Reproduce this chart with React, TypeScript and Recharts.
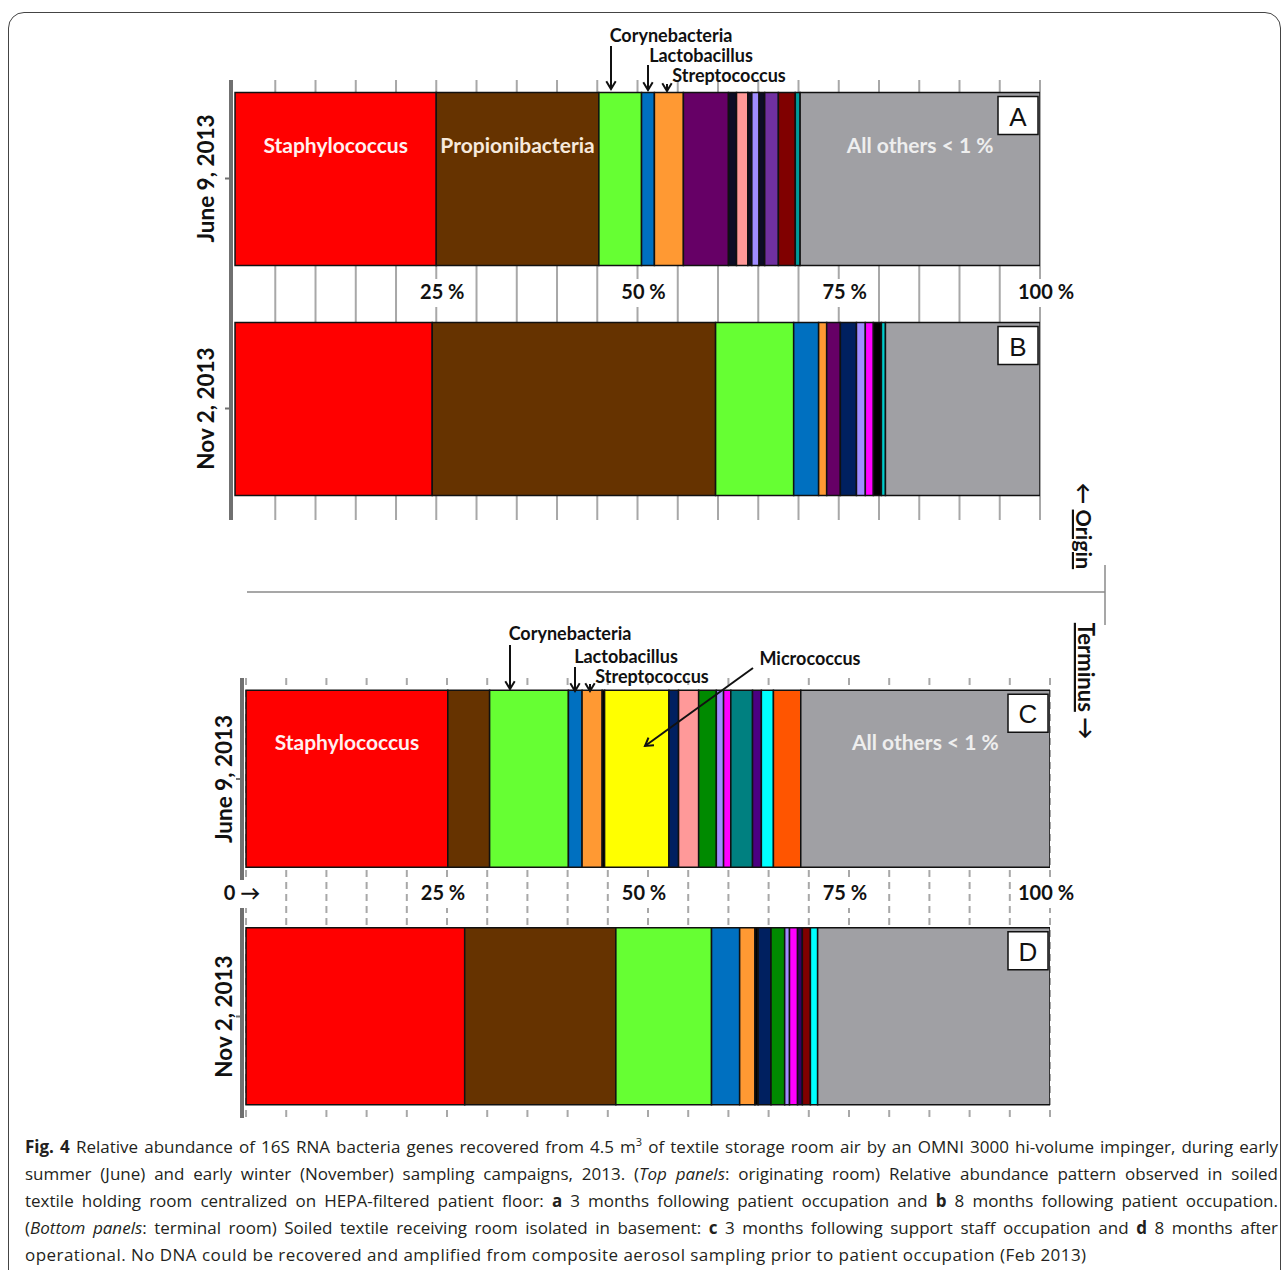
import React from 'react';
import { BarChart, Bar, XAxis, YAxis, CartesianGrid } from 'recharts';

const FONT = "Lato, 'Open Sans', sans-serif";

const dates = ['June 9, 2013', 'Nov 2, 2013'];
const gridTicksTop = [5, 10, 15, 20, 25, 30, 35, 40, 45, 50, 55, 60, 65, 70, 75, 80, 85, 90, 95, 100];
const gridTicksBottom = [0, 5, 10, 15, 20, 25, 30, 35, 40, 45, 50, 55, 60, 65, 70, 75, 80, 85, 90, 95, 100];

// originating room, June (A) and November (B), % of reads
const valuesA = [25.0, 20.2, 5.3, 1.6, 3.6, 5.6, 1.0, 1.4, 0.5, 0.9, 0.7, 1.7, 2.1, 0.6, 29.8];
const colorsA = ['#ff0000', '#663300', '#66ff33', '#0070c0', '#ff9933', '#660066', '#0d0d26', '#ff9999', '#0d0d26', '#a08cff', '#0d0d26', '#7030a0', '#800000', '#009999', '#a0a0a4'];
const namesA = ['Staphylococcus', 'Propionibacteria', '', '', '', '', '', '', '', '', '', '', '', '', 'All others < 1 %'];

const valuesB = [24.5, 35.2, 9.7, 3.1, 1.0, 1.7, 2.0, 1.1, 1.0, 1.0, 0.5, 19.2];
const colorsB = ['#ff0000', '#663300', '#66ff33', '#0070c0', '#ff9933', '#660066', '#002060', '#a08cff', '#ff00ff', '#000000', '#00cccc', '#a0a0a4'];

// terminal room, June (C) and November (D)
const valuesC = [25.1, 5.2, 9.8, 1.7, 2.5, 0.3, 8.0, 1.2, 2.5, 2.2, 0.9, 0.9, 2.7, 1.1, 1.5, 3.4, 31.0];
const colorsC = ['#ff0000', '#663300', '#66ff33', '#0070c0', '#ff9933', '#000000', '#ffff00', '#002060', '#ff9999', '#008a00', '#a08cff', '#ff00ff', '#008080', '#4b0082', '#00ffff', '#ff5500', '#a0a0a4'];
const namesC = ['Staphylococcus', '', '', '', '', '', '', '', '', '', '', '', '', '', '', '', 'All others < 1 %'];

const valuesD = [27.2, 18.8, 11.9, 3.5, 1.9, 0.4, 1.6, 1.7, 0.6, 1.0, 0.6, 1.0, 0.9, 28.9];
const colorsD = ['#ff0000', '#663300', '#66ff33', '#0070c0', '#ff9933', '#000000', '#002060', '#008a00', '#a08cff', '#ff00ff', '#330066', '#800000', '#00ffff', '#a0a0a4'];

type Panel = {
  values: number[][];
  colors: string[][];
  names: string[][];
  letters: string[];
};

const topPanel: Panel = { values: [valuesA, valuesB], colors: [colorsA, colorsB], names: [namesA, []], letters: ['A', 'B'] };
const bottomPanel: Panel = { values: [valuesC, valuesD], colors: [colorsC, colorsD], names: [namesC, []], letters: ['C', 'D'] };

function buildRows(p: Panel) {
  const n = Math.max(...p.values.map((r) => r.length));
  return dates.map((d, i) => {
    const row: any = { date: d };
    for (let k = 0; k < n; k++) row['s' + k] = p.values[i][k] ?? 0;
    return row;
  });
}

function segmentShape(p: any, seg: number, panel: Panel) {
  const row = p.index;
  const vals = panel.values[row];
  if (!vals || seg >= vals.length || !(p.width > 0)) return <g />;
  const name = panel.names[row][seg];
  const last = seg === vals.length - 1;
  const textFill = seg === 0 ? '#fff0f0' : seg === 1 ? '#f6e9dc' : '#eeeeee';
  return (
    <g>
      <rect x={p.x} y={p.y} width={p.width} height={p.height} fill={panel.colors[row][seg]} stroke="#111" strokeWidth={1.5} />
      {name ? (
        <text x={p.x + p.width / 2} y={p.y + 60} textAnchor="middle" fontFamily={FONT} fontWeight={700} fontSize={21} fill={textFill}>
          {name}
        </text>
      ) : null}
      {last ? (
        <g>
          <rect x={p.x + p.width - 42} y={p.y + 4} width={40} height={38} fill="#fff" stroke="#111" strokeWidth={1.5} />
          <text x={p.x + p.width - 22} y={p.y + 33} textAnchor="middle" fontFamily="'Liberation Sans', Arial, sans-serif" fontSize={26} fill="#111">
            {panel.letters[row]}
          </text>
        </g>
      ) : null}
    </g>
  );
}

function XTick(props: any) {
  const { x, payload, labelY, dx } = props;
  const v = payload.value;
  if (v % 25 !== 0) return <g />;
  const label = v === 0 ? '0 \u2192' : `${v} %`;
  return (
    <g>
      <rect x={x + dx - 27} y={labelY - 20} width={54} height={28} fill="#fff" />
      <text x={x + dx} y={labelY} textAnchor="middle" fontFamily={FONT} fontWeight={700} fontSize={20} fill="#111">
        {label}
      </text>
    </g>
  );
}

function YTick(props: any) {
  const { x, y, payload, shift } = props;
  return (
    <text transform={`translate(${x - shift},${y}) rotate(-90)`} textAnchor="middle" fontFamily={FONT} fontWeight={700} fontSize={22.5} fill="#111">
      {payload.value}
    </text>
  );
}

function StackPanel({ panel, left, top, margin, pad, ticks, dashed, labelY, labelDx, yShift, barSize }: any) {
  const rows = buildRows(panel);
  const n = Math.max(...panel.values.map((r: number[]) => r.length));
  const segs = Array.from({ length: n }, (_, k) => k);
  return (
    <div style={{ position: 'absolute', left, top }}>
      <BarChart width={950} height={500} data={rows} layout="vertical" margin={margin} barCategoryGap={0}>
        <CartesianGrid horizontal={false} stroke="#a8a8a8" strokeWidth={2} strokeDasharray={dashed ? '7 5' : undefined} />
        <XAxis
          type="number"
          domain={[-0.5, 100]}
          allowDataOverflow
          ticks={ticks}
          interval={0}
          height={1}
          axisLine={false}
          tickLine={false}
          tick={<XTick labelY={labelY} dx={labelDx} />}
        />
        <YAxis
          type="category"
          dataKey="date"
          width={60}
          padding={pad}
          axisLine={{ stroke: '#707070', strokeWidth: 4 }}
          tickLine={{ stroke: '#707070', strokeWidth: 2 }}
          tickSize={6}
          tick={<YTick shift={yShift} />}
        />
        {segs.map((k) => (
          <Bar
            key={k}
            dataKey={'s' + k}
            stackId="a"
            barSize={barSize}
            isAnimationActive={false}
            shape={(p: any) => segmentShape(p, k, panel)}
          />
        ))}
      </BarChart>
    </div>
  );
}

function Arrow({ x1, y1, x2, y2 }: { x1: number; y1: number; x2: number; y2: number }) {
  const a = Math.atan2(y2 - y1, x2 - x1);
  const h = 9;
  const s = 0.55;
  const p1 = `${x2 - h * Math.cos(a - s)},${y2 - h * Math.sin(a - s)}`;
  const p2 = `${x2 - h * Math.cos(a + s)},${y2 - h * Math.sin(a + s)}`;
  return (
    <g stroke="#111" strokeWidth={2} fill="none">
      <line x1={x1} y1={y1} x2={x2} y2={y2} />
      <polyline points={`${p1} ${x2},${y2} ${p2}`} />
    </g>
  );
}

const annot = { fontFamily: FONT, fontWeight: 700, fontSize: 18, fill: '#111' } as const;

function Overlay() {
  return (
    <svg width={1282} height={1270} style={{ position: 'absolute', left: 0, top: 0, pointerEvents: 'none' }}>
      <text x={671} y={42} textAnchor="middle" {...annot}>Corynebacteria</text>
      <text x={701} y={62} textAnchor="middle" {...annot}>Lactobacillus</text>
      <text x={729} y={82} textAnchor="middle" {...annot}>Streptococcus</text>
      <Arrow x1={611} y1={46} x2={611} y2={89} />
      <Arrow x1={648} y1={65} x2={648} y2={90} />
      <Arrow x1={667} y1={84} x2={667} y2={91} />

      <text x={570} y={640} textAnchor="middle" {...annot}>Corynebacteria</text>
      <text x={626} y={663} textAnchor="middle" {...annot}>Lactobacillus</text>
      <text x={652} y={683} textAnchor="middle" {...annot}>Streptococcus</text>
      <text x={810} y={665} textAnchor="middle" {...annot}>Micrococcus</text>
      <Arrow x1={510} y1={645} x2={510} y2={689} />
      <Arrow x1={575} y1={667} x2={575} y2={691} />
      <Arrow x1={590} y1={684} x2={590} y2={691} />
      <Arrow x1={753} y1={668} x2={645} y2={746} />

      <line x1={247} y1={592} x2={1105} y2={592} stroke="#8a8a8a" strokeWidth={1.5} />
      <line x1={1105} y1={565} x2={1105} y2={625} stroke="#8a8a8a" strokeWidth={1.5} />
      <text transform="translate(1076,526) rotate(90)" textAnchor="middle" fontFamily={FONT} fontWeight={700} fontSize={21.5} fill="#111">
        {'\u2190 '}
        <tspan textDecoration="underline">Origin</tspan>
      </text>
      <text transform="translate(1078,681) rotate(90)" textAnchor="middle" fontFamily={FONT} fontWeight={700} fontSize={22} fill="#111">
        <tspan textDecoration="underline">Terminus</tspan>
        {' \u2192'}
      </text>
    </svg>
  );
}

const lineStyle: React.CSSProperties = {
  height: 27,
  lineHeight: '27px',
  whiteSpace: 'nowrap',
  textAlign: 'justify',
  textAlignLast: 'justify',
};

function Caption() {
  return (
    <div
      style={{
        position: 'absolute',
        left: 25,
        top: 1133,
        width: 1253,
        fontFamily: "'Open Sans', 'Noto Sans', sans-serif",
        fontSize: 17,
        color: '#231f20',
      }}
    >
      <div style={lineStyle}>
        <b>Fig. 4</b> Relative abundance of 16S RNA bacteria genes recovered from 4.5 m<sup style={{ fontSize: 11, lineHeight: 0 }}>3</sup> of textile storage room air by an OMNI 3000 hi-volume impinger, during early
      </div>
      <div style={lineStyle}>
        summer (June) and early winter (November) sampling campaigns, 2013. (<i>Top panels</i>: originating room) Relative abundance pattern observed in soiled
      </div>
      <div style={lineStyle}>
        textile holding room centralized on HEPA-filtered patient floor: <b>a</b> 3 months following patient occupation and <b>b</b> 8 months following patient occupation.
      </div>
      <div style={lineStyle}>
        (<i>Bottom panels</i>: terminal room) Soiled textile receiving room isolated in basement: <b>c</b> 3 months following support staff occupation and <b>d</b> 8 months after
      </div>
      <div style={{ ...lineStyle, textAlignLast: 'left', letterSpacing: 0.45 }}>
        operational. No DNA could be recovered and amplified from composite aerosol sampling prior to patient occupation (Feb 2013)
      </div>
    </div>
  );
}

export default function App() {
  return (
    <div style={{ position: 'absolute', left: 0, top: 0, width: 1282, height: 1270, overflow: 'hidden', background: '#fff' }}>
      <div
        style={{
          position: 'absolute',
          left: 8,
          top: 12,
          width: 1273,
          height: 1300,
          boxSizing: 'border-box',
          border: '1.5px solid #444',
          borderRadius: 16,
        }}
      />
      <StackPanel
        panel={topPanel}
        left={150}
        top={40}
        margin={{ top: 40, right: 60, bottom: 19, left: 21 }}
        pad={{ top: -16.5, bottom: -3.5 }}
        ticks={gridTicksTop}
        dashed={false}
        labelY={259}
        labelDx={6}
        yShift={9}
        barSize={173}
      />
      <StackPanel
        panel={bottomPanel}
        left={161}
        top={640}
        margin={{ top: 38, right: 61, bottom: 21, left: 21 }}
        pad={{ top: -17.75, bottom: -17.25 }}
        ticks={gridTicksBottom}
        dashed={true}
        labelY={260}
        labelDx={-4}
        yShift={2}
        barSize={177}
      />
      <Overlay />
      <Caption />
    </div>
  );
}
